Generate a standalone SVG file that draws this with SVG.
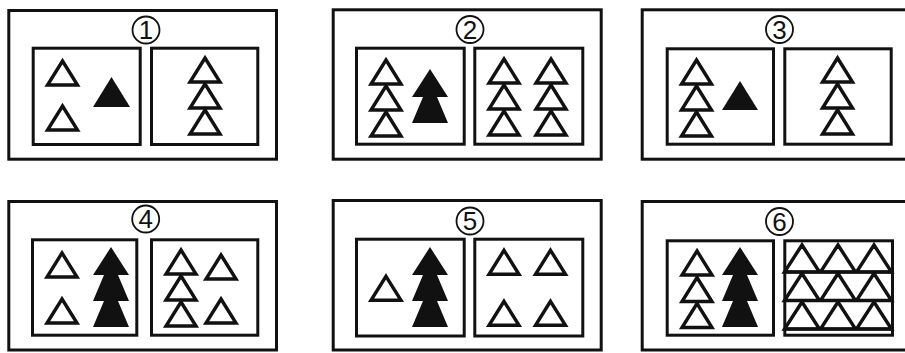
<svg xmlns="http://www.w3.org/2000/svg" xmlns:xlink="http://www.w3.org/1999/xlink" width="905" height="353" viewBox="0 0 905 353">
<style>
.box{fill:none;stroke:#111;stroke-width:3}
.ring{fill:#fff;stroke:#111;stroke-width:1.8}
.num{font-family:"Liberation Sans",Arial,sans-serif;font-size:26px;fill:#111;text-anchor:middle}
.ol{fill:none;stroke:#111;stroke-width:3.4;stroke-linejoin:miter}
.fl{fill:#111;stroke:none}
.ln{stroke:#111;stroke-width:3}
</style>
<defs>
<path id="o" class="ol" d="M0,0 L15,24 L-15,24 Z"/>
</defs>
<rect width="905" height="353" fill="#fff"/>

<g id="panel1">
<rect class="box" x="8.8" y="10.5" width="267.7" height="148.7"/>
<rect class="box" x="33.2" y="48.2" width="107" height="96.3"/>
<rect class="box" x="151.5" y="48.2" width="106.3" height="96.3"/>
<circle class="ring" cx="146" cy="30" r="13.5"/>
<text class="num" x="146" y="39">1</text>
<use xlink:href="#o" x="62.5" y="61"/>
<use xlink:href="#o" x="62.5" y="106"/>
<polygon class="fl" points="111.5,77 130,107 93,107"/>
<use xlink:href="#o" x="205" y="58"/>
<use xlink:href="#o" x="205" y="84"/>
<use xlink:href="#o" x="205" y="110"/>
</g>

<g id="panel2">
<rect class="box" x="333.2" y="9.8" width="268" height="149.4"/>
<rect class="box" x="356.5" y="48.2" width="107.7" height="96"/>
<rect class="box" x="474.8" y="48.2" width="108" height="96"/>
<circle class="ring" cx="470" cy="29.5" r="13.5"/>
<text class="num" x="470" y="38.5">2</text>
<use xlink:href="#o" x="386" y="60"/>
<use xlink:href="#o" x="386" y="86"/>
<use xlink:href="#o" x="386" y="112"/>
<polygon class="fl" points="430,69 448,97 437,97 448,123 412,123 423,97 412,97"/>
<use xlink:href="#o" x="504" y="59"/>
<use xlink:href="#o" x="504" y="85"/>
<use xlink:href="#o" x="504" y="111"/>
<use xlink:href="#o" x="551" y="59"/>
<use xlink:href="#o" x="551" y="85"/>
<use xlink:href="#o" x="551" y="111"/>
</g>

<g id="panel3">
<rect class="box" x="642.2" y="9.8" width="280" height="149.4"/>
<rect class="box" x="667.2" y="48.8" width="106.3" height="95.4"/>
<rect class="box" x="784.8" y="48.8" width="106.4" height="95.4"/>
<circle class="ring" cx="779.5" cy="29.5" r="13.5"/>
<text class="num" x="779.5" y="38.5">3</text>
<use xlink:href="#o" x="696.5" y="60"/>
<use xlink:href="#o" x="696.5" y="86"/>
<use xlink:href="#o" x="696.5" y="112"/>
<polygon class="fl" points="740,81 758,110 722,110"/>
<use xlink:href="#o" x="837.5" y="58"/>
<use xlink:href="#o" x="837.5" y="84"/>
<use xlink:href="#o" x="837.5" y="110"/>
</g>

<g id="panel4">
<rect class="box" x="8.8" y="201.5" width="267.7" height="148.5"/>
<rect class="box" x="32.5" y="239.8" width="104.3" height="95.4"/>
<rect class="box" x="151.5" y="239.8" width="106.3" height="95.4"/>
<circle class="ring" cx="145.7" cy="219" r="13.5"/>
<text class="num" x="145.7" y="228">4</text>
<use xlink:href="#o" x="62" y="253"/>
<use xlink:href="#o" x="62" y="299"/>
<polygon class="fl" points="111,247 129,275 118,275 129,301 118,301 129,327 93,327 104,301 93,301 104,275 93,275"/>
<use xlink:href="#o" x="181" y="250"/>
<use xlink:href="#o" x="181" y="276"/>
<use xlink:href="#o" x="181" y="302"/>
<use xlink:href="#o" x="221" y="255"/>
<use xlink:href="#o" x="221" y="299"/>
</g>

<g id="panel5">
<rect class="box" x="333.2" y="200.5" width="268" height="149.5"/>
<rect class="box" x="356.5" y="239.2" width="107.7" height="96.8"/>
<rect class="box" x="474.8" y="239.2" width="108" height="96.8"/>
<circle class="ring" cx="470" cy="221" r="13.5"/>
<text class="num" x="470" y="230">5</text>
<use xlink:href="#o" x="386" y="276.3"/>
<polygon class="fl" points="430,247 448,275 437,275 448,301 437,301 448,327 412,327 423,301 412,301 423,275 412,275"/>
<use xlink:href="#o" x="504" y="250.3"/>
<use xlink:href="#o" x="550.5" y="250.3"/>
<use xlink:href="#o" x="504" y="301.3"/>
<use xlink:href="#o" x="550.5" y="301.3"/>
</g>

<g id="panel6">
<rect class="box" x="642.2" y="201.5" width="280" height="148.5"/>
<rect class="box" x="667.2" y="240.8" width="106.3" height="94.4"/>
<rect class="box" x="784.8" y="240.8" width="107.7" height="94.4"/>
<circle class="ring" cx="779.5" cy="221.5" r="13.5"/>
<text class="num" x="779.5" y="230.5">6</text>
<use xlink:href="#o" x="697" y="251"/>
<use xlink:href="#o" x="697" y="277.5"/>
<use xlink:href="#o" x="697" y="303.5"/>
<polygon class="fl" points="740,247 758,275 747,275 758,301 747,301 758,327 722,327 733,301 722,301 733,275 722,275"/>
<line class="ln" x1="784.8" y1="272" x2="892.5" y2="272"/>
<line class="ln" x1="784.8" y1="300.5" x2="892.5" y2="300.5"/>
<line class="ln" x1="784.8" y1="329" x2="892.5" y2="329"/>
<path class="ol" d="M802,245 L819.5,272 L784.5,272 Z M838,245 L855.5,272 L820.5,272 Z M874,245 L891.5,272 L856.5,272 Z"/>
<path class="ol" d="M802,273.5 L819.5,300.5 L784.5,300.5 Z M838,273.5 L855.5,300.5 L820.5,300.5 Z M874,273.5 L891.5,300.5 L856.5,300.5 Z"/>
<path class="ol" d="M802,302 L819.5,329 L784.5,329 Z M838,302 L855.5,329 L820.5,329 Z M874,302 L891.5,329 L856.5,329 Z"/>
</g>
</svg>
